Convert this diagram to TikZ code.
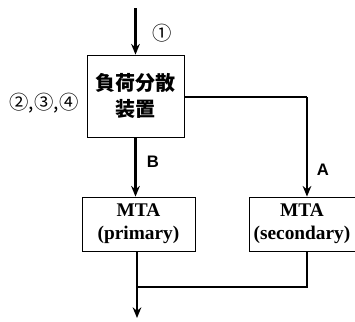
\documentclass[tikz,border=0pt]{standalone}
\usepackage{fontspec}
\setmainfont{Liberation Serif}
\newfontfamily\cjk{Noto Sans CJK JP}
\newfontfamily\lab{Liberation Sans}
\usetikzlibrary{arrows.meta}
\begin{document}
\begin{tikzpicture}[x=0.75pt,y=-0.75pt,
  box/.style={draw,line width=0.6pt,inner sep=0pt},
  wire/.style={line width=2.2pt},
  arr/.style={wire,-{Stealth[length=8pt,width=6.5pt]}},
  lbl/.style={font=\lab\bfseries\fontsize{12.5}{14}\selectfont},
  circ/.style={font=\cjk\fontsize{14.5}{16}\selectfont},
  mta/.style={font=\bfseries\fontsize{14.5}{17.5}\selectfont,align=center}]
\useasboundingbox (0,0) rectangle (355,322);
\node[box,minimum width=97pt*0.75,minimum height=82pt*0.75] (lb) at (135.5,96) {};
\node[font=\cjk\bfseries\fontsize{15}{19}\selectfont,align=center] (lbt) at (lb.center) {負荷分散\\装置};
\node[box,minimum width=113pt*0.75,minimum height=54pt*0.75] (mp) at (138.5,224) {};
\node[mta] at (mp.center) {MTA\\(primary)};
\node[box,minimum width=106pt*0.75,minimum height=54pt*0.75] (ms) at (302,224) {};
\node[mta] at (ms.center) {MTA\\(secondary)};
\coordinate (top) at (135.5,8);
\coordinate (bot) at (137,318);
\coordinate (rc) at (307,97);
\coordinate (jn) at (137,287);
\coordinate (sj) at (307,287);
\draw[arr] (top) -- (lb.north);
\draw[arr] (lb.south) -- (lb.south |- mp.north);
\draw[wire] (lb.east |- rc) -- (rc);
\draw[arr] (rc) -- (rc |- ms.north);
\draw[wire] (rc |- ms.south) -- (sj) -- (jn);
\draw[arr] (jn |- mp.south) -- (bot);
\node[circ] (c1) at (162,33) {①};
\node[circ] (c2) at (44,103) {②,③,④};
\node[lbl] (B) at (153,162) {B};
\node[lbl] (A) at (323,170) {A};
\end{tikzpicture}
\end{document}
